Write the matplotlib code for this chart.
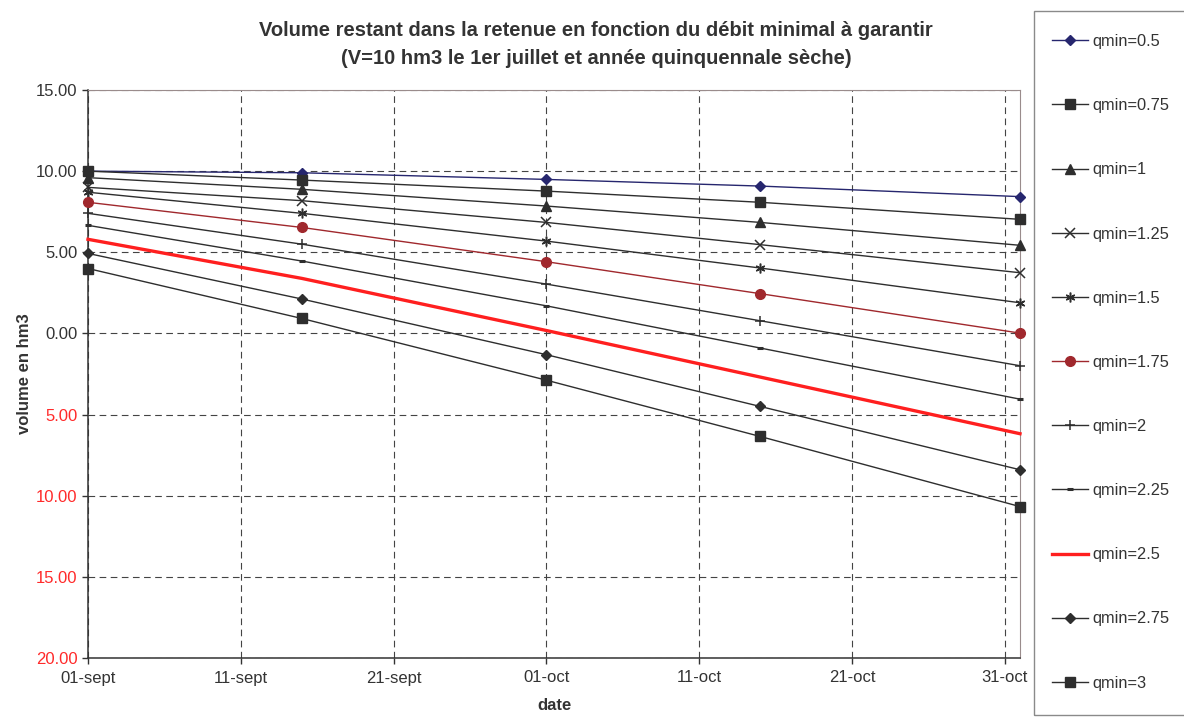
import matplotlib
matplotlib.use("Agg")
import matplotlib.pyplot as plt
import matplotlib.dates as mdates
from matplotlib.patches import Rectangle
from matplotlib.ticker import FixedLocator, FuncFormatter
from datetime import date

plt.rcParams['font.family'] = ['Liberation Sans', 'DejaVu Sans']

# Dates de calcul (début de saison, mi-mois, fin de mois)
dates = [date(2009, 9, 1), date(2009, 9, 15), date(2009, 10, 1),
         date(2009, 10, 15), date(2009, 11, 1)]

labels = ['qmin=0.5', 'qmin=0.75', 'qmin=1', 'qmin=1.25', 'qmin=1.5',
          'qmin=1.75', 'qmin=2', 'qmin=2.25', 'qmin=2.5', 'qmin=2.75', 'qmin=3']

# Volume restant (hm3) pour chaque débit minimal
v_q050 = [10.00, 9.90, 9.49, 9.08, 8.43]
v_q075 = [10.00, 9.45, 8.77, 8.08, 7.03]
v_q100 = [9.60, 8.88, 7.85, 6.84, 5.43]
v_q125 = [9.00, 8.18, 6.84, 5.47, 3.74]
v_q150 = [8.70, 7.40, 5.69, 4.03, 1.89]
v_q175 = [8.08, 6.53, 4.42, 2.45, 0.02]
v_q200 = [7.40, 5.50, 3.04, 0.78, -1.99]
v_q225 = [6.66, 4.46, 1.70, -0.90, -4.05]
v_q250 = [5.80, 3.39, 0.18, -2.69, -6.18]
v_q275 = [4.93, 2.12, -1.31, -4.50, -8.40]
v_q300 = [4.00, 0.92, -2.88, -6.35, -10.67]

series = [v_q050, v_q075, v_q100, v_q125, v_q150, v_q175,
          v_q200, v_q225, v_q250, v_q275, v_q300]

x_ticks = [date(2009, 9, 1), date(2009, 9, 11), date(2009, 9, 21), date(2009, 10, 1),
           date(2009, 10, 11), date(2009, 10, 21), date(2009, 10, 31)]
x_tick_labels = ['01-sept', '11-sept', '21-sept', '01-oct', '11-oct', '21-oct', '31-oct']
y_ticks = [-20, -15, -10, -5, 0, 5, 10, 15]

dark = '#2e2e2e'
styles = [
    dict(color='#26266e', marker='D', ms=5.5, lw=1.0),
    dict(color=dark, marker='s', ms=6.5, lw=1.0),
    dict(color=dark, marker='^', ms=6.5, lw=1.0),
    dict(color=dark, marker='x', ms=6.5, lw=1.0, mew=1.1),
    dict(color=dark, marker=(6, 2, 0), ms=7, lw=1.0, mew=1.1),
    dict(color='#a0282d', marker='o', ms=7, lw=1.0),
    dict(color=dark, marker='+', ms=7.5, lw=1.0, mew=1.1),
    dict(color=dark, marker='_', ms=4, lw=1.0, mew=2.2),
    dict(color='#ff1f1f', marker=None, lw=2.4),
    dict(color=dark, marker='D', ms=5.5, lw=1.0),
    dict(color=dark, marker='s', ms=6.5, lw=1.0),
]

fig = plt.figure(figsize=(11.84, 7.18), dpi=100)
ax = fig.add_axes([88 / 1184, 1 - 658 / 718, (1020 - 88) / 1184, (658 - 90) / 718])

dnum = mdates.date2num(dates)
handles = []
for vals, lab, st in zip(series, labels, styles):
    h, = ax.plot(dnum, vals, label=lab, clip_on=False, zorder=3, **st)
    handles.append(h)

ax.set_xlim(mdates.date2num(date(2009, 9, 1)), mdates.date2num(date(2009, 11, 1)))
ax.set_ylim(-20, 15)

ax.xaxis.set_major_locator(FixedLocator(mdates.date2num(x_ticks)))
ax.set_xticklabels(x_tick_labels)
ax.yaxis.set_major_locator(FixedLocator(y_ticks))
ax.yaxis.set_major_formatter(FuncFormatter(lambda v, p: f"{abs(v):.2f}"))

ax.tick_params(axis='both', labelsize=12, colors='#333333', length=4, width=1, direction='out')
ax.tick_params(axis='x', pad=5)
for t, v in zip(ax.get_yticklabels(), y_ticks):
    t.set_color('#ff2a2a' if v < 0 else '#333333')

ax.grid(True, linestyle=(0, (6, 4)), color='#444444', linewidth=0.8)
ax.set_axisbelow(True)

ax.spines['left'].set_color('#333333')
ax.spines['bottom'].set_color('#333333')
ax.spines['left'].set_linewidth(1.1)
ax.spines['bottom'].set_linewidth(1.1)
ax.spines['top'].set_color('#9a8c8c')
ax.spines['right'].set_color('#9a8c8c')

ax.set_xlabel('date', fontsize=12, fontweight='bold', color='#333333', labelpad=9)
ax.set_ylabel('volume en hm3', fontsize=12, fontweight='bold', color='#333333', labelpad=3)

fig.text(596 / 1184, 1 - 31 / 718, "Volume restant dans la retenue en fonction du débit minimal à garantir",
         ha='center', va='center', fontsize=14.5, fontweight='bold', color='#333333')
fig.text(596 / 1184, 1 - 58 / 718, "(V=10 hm3 le 1er juillet et année quinquennale sèche)",
         ha='center', va='center', fontsize=14.5, fontweight='bold', color='#333333')

# Cadre de légende
fig.patches.append(Rectangle((1034 / 1184, 3 / 718), 0.3, 704 / 718, transform=fig.transFigure,
                             fill=False, edgecolor='#8a8a8a', linewidth=1.0))
leg = fig.legend(handles=handles, loc='upper left', bbox_to_anchor=(1052 / 1184, 1 - 34 / 718),
                 frameon=False, fontsize=11.8, labelspacing=3.0, handlelength=2.2,
                 handletextpad=0.25, borderpad=0, borderaxespad=0)
for t in leg.get_texts():
    t.set_color('#333333')

fig.savefig('out.png', dpi=100)
